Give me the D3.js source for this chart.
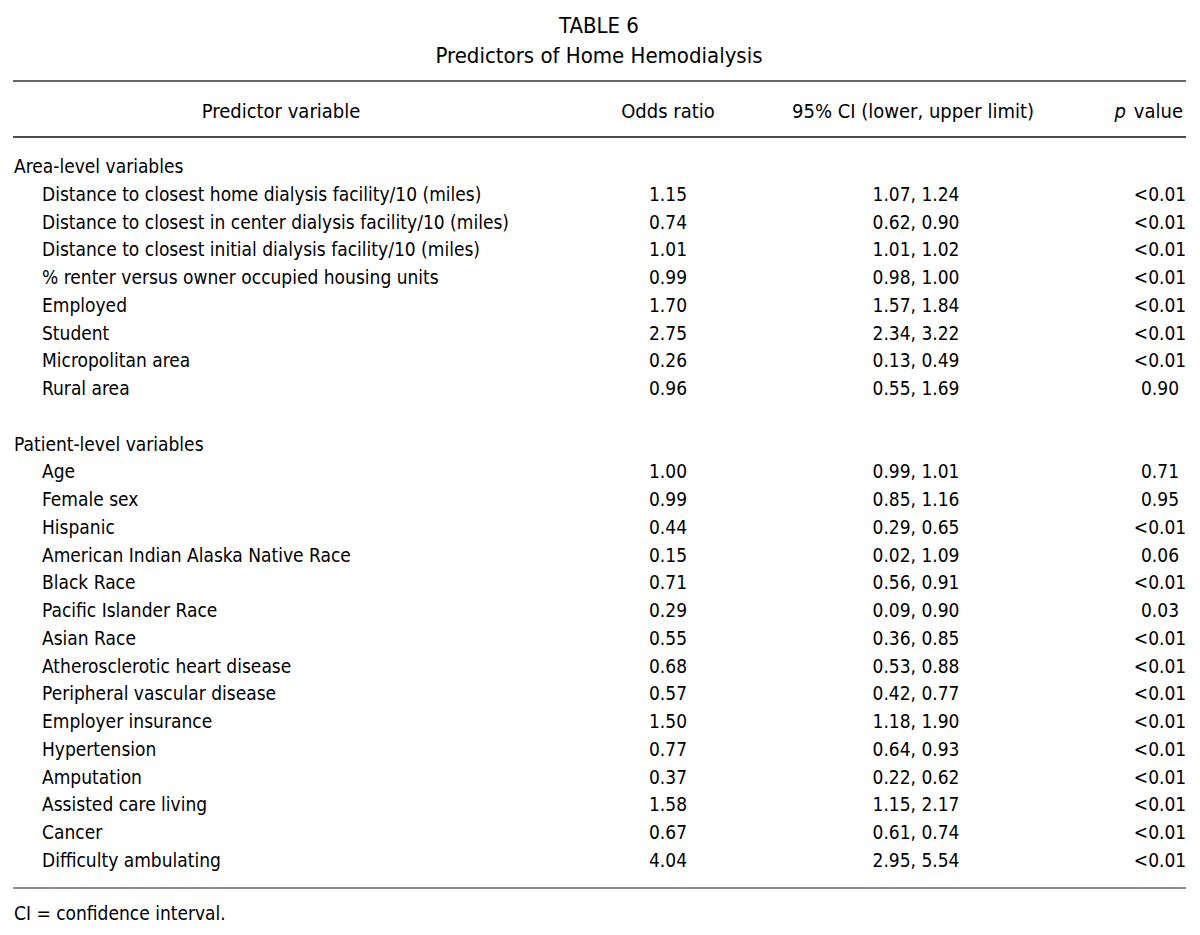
<!DOCTYPE html>
<html>
<head>
<meta charset="utf-8">
<script src="https://cdn.jsdelivr.net/npm/d3@7"></script>
<style>
  body { margin: 0; background: #fff; }
  svg text { font-family: "DejaVu Sans Condensed", "Liberation Sans Narrow", "Liberation Sans", sans-serif; fill: #000; }
</style>
</head>
<body>
<div id="table"></div>
<script>
// table contents
var columns = ['Predictor variable', 'Odds ratio', '95% CI (lower, upper limit)', 'p value'];

var areaVars = ['Distance to closest home dialysis facility/10 (miles)',
  'Distance to closest in center dialysis facility/10 (miles)',
  'Distance to closest initial dialysis facility/10 (miles)',
  '% renter versus owner occupied housing units',
  'Employed', 'Student', 'Micropolitan area', 'Rural area'];
var areaOdds = ['1.15', '0.74', '1.01', '0.99', '1.70', '2.75', '0.26', '0.96'];
var areaCI = ['1.07, 1.24', '0.62, 0.90', '1.01, 1.02', '0.98, 1.00', '1.57, 1.84', '2.34, 3.22', '0.13, 0.49', '0.55, 1.69'];
var areaP = ['<0.01', '<0.01', '<0.01', '<0.01', '<0.01', '<0.01', '<0.01', '0.90'];

var patientVars = ['Age', 'Female sex', 'Hispanic', 'American Indian Alaska Native Race',
  'Black Race', 'Pacific Islander Race', 'Asian Race', 'Atherosclerotic heart disease',
  'Peripheral vascular disease', 'Employer insurance', 'Hypertension', 'Amputation',
  'Assisted care living', 'Cancer', 'Difficulty ambulating'];
var patientOdds = ['1.00', '0.99', '0.44', '0.15', '0.71', '0.29', '0.55', '0.68', '0.57', '1.50', '0.77', '0.37', '1.58', '0.67', '4.04'];
var patientCI = ['0.99, 1.01', '0.85, 1.16', '0.29, 0.65', '0.02, 1.09', '0.56, 0.91', '0.09, 0.90', '0.36, 0.85',
  '0.53, 0.88', '0.42, 0.77', '1.18, 1.90', '0.64, 0.93', '0.22, 0.62', '1.15, 2.17', '0.61, 0.74', '2.95, 5.54'];
var patientP = ['0.71', '0.95', '<0.01', '0.06', '<0.01', '0.03', '<0.01', '<0.01', '<0.01', '<0.01', '<0.01', '<0.01', '<0.01', '<0.01', '<0.01'];

var width = 1200, height = 935;
var fontSize = 19;

var svg = d3.select('#table').append('svg')
  .attr('width', width)
  .attr('height', height);

// build rows: group heading, items, blank spacer
var rows = [];
function addGroup(title, names, odds, ci, p) {
  rows.push({ type: 'group', name: title });
  names.forEach(function (n, i) {
    rows.push({ type: 'item', name: n, odds: odds[i], ci: ci[i], p: p[i] });
  });
}
addGroup('Area-level variables', areaVars, areaOdds, areaCI, areaP);
rows.push({ type: 'blank' });
addGroup('Patient-level variables', patientVars, patientOdds, patientCI, patientP);

// vertical scale: row index -> baseline
var yScale = d3.scaleLinear()
  .domain([0, rows.length - 1])
  .range([173, 867]);

// column positions
var colX = { label: 14, indent: 42, head: 281, odds: 668, ci: 916, p: 1160 };

// title
svg.append('text')
  .attr('x', 599).attr('y', 33)
  .attr('text-anchor', 'middle')
  .style('font-size', '22px')
  .text('TABLE 6');
svg.append('text')
  .attr('x', 599).attr('y', 63)
  .attr('text-anchor', 'middle')
  .style('font-size', '22px')
  .text('Predictors of Home Hemodialysis');

// rules
svg.append('line').attr('x1', 13).attr('x2', 1186).attr('y1', 81).attr('y2', 81)
  .attr('stroke', '#666').attr('stroke-width', 2);
svg.append('line').attr('x1', 13).attr('x2', 1186).attr('y1', 137).attr('y2', 137)
  .attr('stroke', '#111').attr('stroke-width', 1.5);
svg.append('line').attr('x1', 13).attr('x2', 1186).attr('y1', 888).attr('y2', 888)
  .attr('stroke', '#666').attr('stroke-width', 1.5);

// header
var header = svg.append('g').attr('class', 'header').style('font-size', '20px');
header.append('text').attr('x', colX.head).attr('y', 118).attr('text-anchor', 'middle').text(columns[0]);
header.append('text').attr('x', colX.odds).attr('y', 118).attr('text-anchor', 'middle').text(columns[1]);
header.append('text').attr('x', colX.ci - 3).attr('y', 118).attr('text-anchor', 'middle').text(columns[2]);
var pHead = header.append('text').attr('x', 1183).attr('y', 118).attr('text-anchor', 'end');
pHead.append('tspan').style('font-style', 'italic').text('p');
pHead.append('tspan').attr('dx', 8).text('value');

// body
var body = svg.append('g').attr('class', 'body').style('font-size', fontSize + 'px');
var rg = body.selectAll('g.row')
  .data(rows.map(function (r, i) { r.i = i; return r; }).filter(function (r) { return r.type !== 'blank'; }))
  .enter().append('g')
  .attr('class', 'row')
  .attr('transform', function (d) { return 'translate(0,' + yScale(d.i) + ')'; });

rg.append('text')
  .attr('x', function (d) { return d.type === 'group' ? colX.label : colX.indent; })
  .text(function (d) { return d.name; });

var items = rg.filter(function (d) { return d.type === 'item'; });
items.append('text').attr('x', colX.odds).attr('text-anchor', 'middle').text(function (d) { return d.odds; });
items.append('text').attr('x', colX.ci).attr('text-anchor', 'middle').text(function (d) { return d.ci; });
items.append('text').attr('x', colX.p).attr('text-anchor', 'middle').text(function (d) { return d.p; });

// footnote
svg.append('text')
  .attr('x', 14).attr('y', 920)
  .style('font-size', fontSize + 'px')
  .text('CI = confidence interval.');
</script>
</body>
</html>
